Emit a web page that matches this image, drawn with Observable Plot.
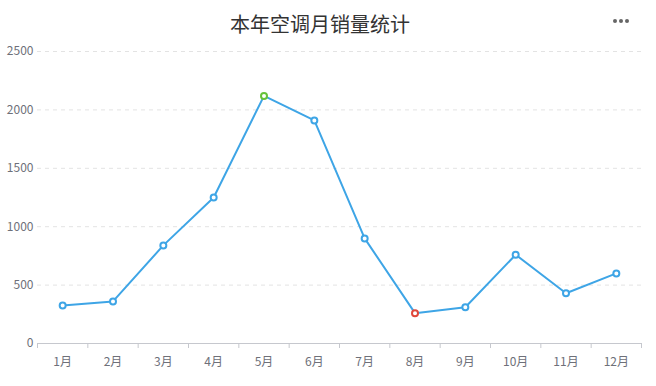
<!DOCTYPE html>
<html><head><meta charset="utf-8">
<script src="https://cdn.jsdelivr.net/npm/d3@7"></script>
<script src="https://cdn.jsdelivr.net/npm/@observablehq/plot@0.6"></script>
<style>
body{margin:0;background:#fff;font-family:"Noto Sans CJK SC","Noto Sans",sans-serif;}
#wrap{position:relative;width:656px;height:386px;}
#title{position:absolute;left:320px;top:9px;transform:translateX(-50%);font-size:20px;color:#333;white-space:nowrap;line-height:30px;}
#more{position:absolute;left:613px;top:19px;display:flex;gap:2px;}
#more span{width:4px;height:4px;border-radius:50%;background:#666;display:block;}
</style></head>
<body><div id="wrap"><div id="title">本年空调月销量统计</div><div id="more"><span></span><span></span><span></span></div></div>
<script>
const months = ["1月","2月","3月","4月","5月","6月","7月","8月","9月","10月","11月","12月"];
const sales = [325, 360, 840, 1250, 2120, 1910, 900, 260, 310, 760, 430, 600];
const yTicks = [0, 500, 1000, 1500, 2000, 2500];

const data = months.map((m, i) => ({i, m, v: sales[i]}));
const maxV = d3.max(sales), minV = d3.min(sales);
const dotColor = d => d.v === maxV ? "#67c23a" : d.v === minV ? "#e0483b" : "#3ea5e6";
const idx = d3.range(months.length);
const bounds = d3.range(months.length + 1).map(k => k - 0.5);

const chart = Plot.plot({
  width: 656, height: 386,
  marginLeft: 37, marginRight: 15, marginTop: 51, marginBottom: 43,
  style: {fontFamily: '"Noto Sans CJK SC","Noto Sans",sans-serif', fontSize: "12px", color: "#6e7079", background: "#fff"},
  x: {type: "linear", domain: [-0.5, months.length - 0.5]},
  y: {domain: [0, 2500]},
  marks: [
    Plot.gridY(yTicks, {stroke: "#e3e3e3", strokeOpacity: 1, strokeDasharray: "4,4"}),
    Plot.axisY(yTicks, {tickSize: 0, tickPadding: 4, tickFormat: d => String(d), fill: "#6e7079", label: null}),
    Plot.ruleY([0], {stroke: "#c6c8ce"}),
    Plot.axisX(bounds, {tickSize: 5, tickFormat: () => "", stroke: "#c6c8ce", label: null}),
    Plot.axisX(idx, {tickSize: 0, tickPadding: 14, tickFormat: k => months[k], fill: "#6e7079", label: null}),
    Plot.line(data, {x: "i", y: "v", stroke: "#3ea5e6", strokeWidth: 2}),
    Plot.dot(data, {x: "i", y: "v", r: 3, fill: "#fff", stroke: dotColor, strokeWidth: 2})
  ]
});
document.getElementById("wrap").appendChild(chart);
chart.style.position = "absolute"; chart.style.left = "0"; chart.style.top = "0";
document.getElementById("wrap").appendChild(document.getElementById("title"));
document.getElementById("wrap").appendChild(document.getElementById("more"));
</script></body></html>
